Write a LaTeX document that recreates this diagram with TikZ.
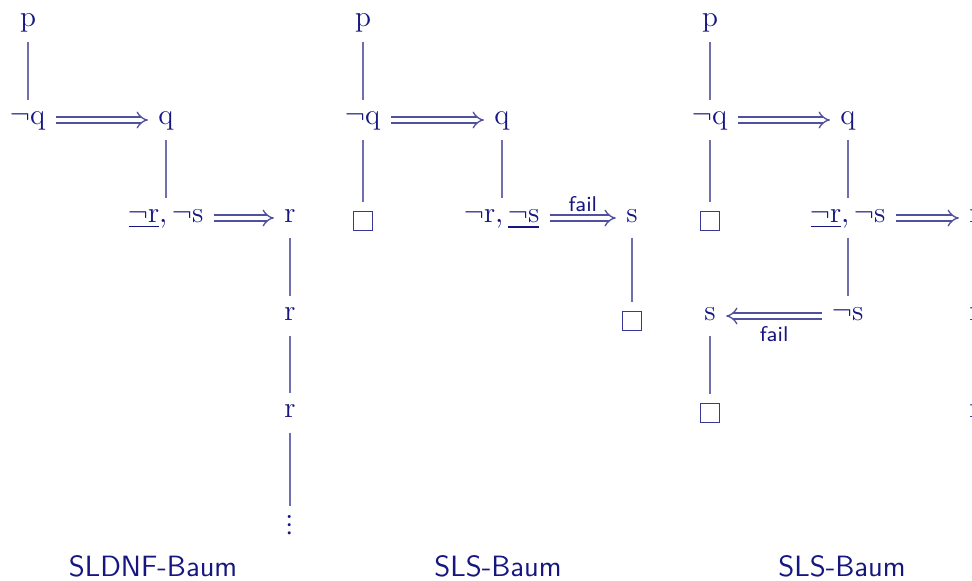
\documentclass[tikz,border=0pt]{standalone}
\usepackage{fontspec}
\IfFileExists{unicode-math.sty}{%
  \usepackage{unicode-math}%
  \IfFontExistsTF{Euler Math}{\setmathfont{Euler Math}}{%
    \IfFontExistsTF{euler.otf}{\setmathfont{euler.otf}}{}}%
}{}
\usetikzlibrary{arrows.meta}
\definecolor{tc}{RGB}{22,22,128}
\colorlet{lc}{tc!62}
\newcommand{\lit}[1]{\mathrm{#1}}
\begin{document}
\begin{tikzpicture}[x=0.375pt,y=-0.375pt,
  every node/.style={text=tc, font=\fontsize{11}{13.6}\selectfont},
  t/.style={inner xsep=3.75pt, inner ysep=3.5pt, text height=5.5pt, text depth=2pt},
  boxnode/.style={draw=tc!85, line width=0.55pt, minimum size=7pt, inner sep=0pt},
  tl/.style={draw=lc, line width=0.6pt},
  dbl/.style={draw=tc!75, double, double distance=1.7pt, line width=0.5pt, -{Implies}},
  captxt/.style={font=\sffamily\fontsize{11}{13.6}\selectfont},
  failtxt/.style={font=\sffamily\fontsize{8}{9.6}\selectfont, inner sep=1.5pt}]
\useasboundingbox (0,0) rectangle (972,581);
\clip (0,0) rectangle (972,581);
% Tree 1: SLDNF
\node[t] (a1) at (28,22) {$\lit{p}$};
\node[t] (a2) at (28,120) {$\neg \lit{q}$};
\node[t] (a3) at (166,120) {$\lit{q}$};
\node[t] (a4) at (166,218) {$\underline{\neg \lit{r}}, \neg \lit{s}$};
\node[t] (a5) at (290,218) {$\lit{r}$};
\node[t] (a6) at (290,316) {$\lit{r}$};
\node[t] (a7) at (290,413) {$\lit{r}$};
\node (a8) at (290,525) {$\vdots$};
\draw[tl] (a1) -- (a2);
\draw[dbl] (a2) -- (a3);
\draw[tl] (a3) -- (a4);
\draw[dbl] (a4) -- (a5);
\draw[tl] (a5) -- (a6);
\draw[tl] (a6) -- (a7);
\draw[tl] (a7) -- (a8);
% Tree 2: SLS
\node[t] (b1) at (363,22) {$\lit{p}$};
\node[t] (b2) at (363,120) {$\neg \lit{q}$};
\node[t] (b3) at (502,120) {$\lit{q}$};
\node[t] (b4) at (502,218) {$\neg \lit{r}, \underline{\neg \lit{s}}$};
\node[t] (b5) at (632,218) {$\lit{s}$};
\node[boxnode] (b6) at (632,321) {};
\node[boxnode] (b7) at (363,221) {};
\draw[tl] (b1) -- (b2);
\draw[dbl] (b2) -- (b3);
\draw[tl] (b2) -- ([yshift=3.4pt]b7.north);
\draw[tl] (b3) -- (b4);
\draw[dbl] (b4) -- node[above=0.5pt, failtxt] {fail} (b5);
\draw[tl] (b5) -- ([yshift=3.4pt]b6.north);
% Tree 3: SLS
\node[t] (c1) at (710,22) {$\lit{p}$};
\node[t] (c2) at (710,120) {$\neg \lit{q}$};
\node[t] (c3) at (848,120) {$\lit{q}$};
\node[t] (c4) at (848,218) {$\underline{\neg \lit{r}}, \neg \lit{s}$};
\node[t] (c5) at (975,218) {$\lit{r}$};
\node[boxnode] (c6) at (710,221) {};
\node[t] (c7) at (848,316) {$\neg \lit{s}$};
\node[t] (c8) at (710,316) {$\lit{s}$};
\node[boxnode] (c9) at (710,413) {};
\node[t] (c10) at (975,316) {$\lit{r}$};
\node[t] (c11) at (975,413) {$\lit{r}$};
\node (c12) at (975,525) {$\vdots$};
\draw[tl] (c1) -- (c2);
\draw[dbl] (c2) -- (c3);
\draw[tl] (c2) -- ([yshift=3.4pt]c6.north);
\draw[tl] (c3) -- (c4);
\draw[dbl] (c4) -- (c5);
\draw[tl] (c4) -- (c7);
\draw[dbl] (c7) -- node[below=2pt, failtxt] {fail} (c8);
\draw[tl] (c8) -- ([yshift=3.4pt]c9.north);
\draw[tl] (c5) -- (c10);
\draw[tl] (c10) -- (c11);
\draw[tl] (c11) -- (c12);
% captions
\node[captxt] (t1) at (153,566) {SLDNF-Baum};
\node[captxt] (t2) at (498,566) {SLS-Baum};
\node[captxt] (t3) at (842,566) {SLS-Baum};
\end{tikzpicture}
\end{document}
